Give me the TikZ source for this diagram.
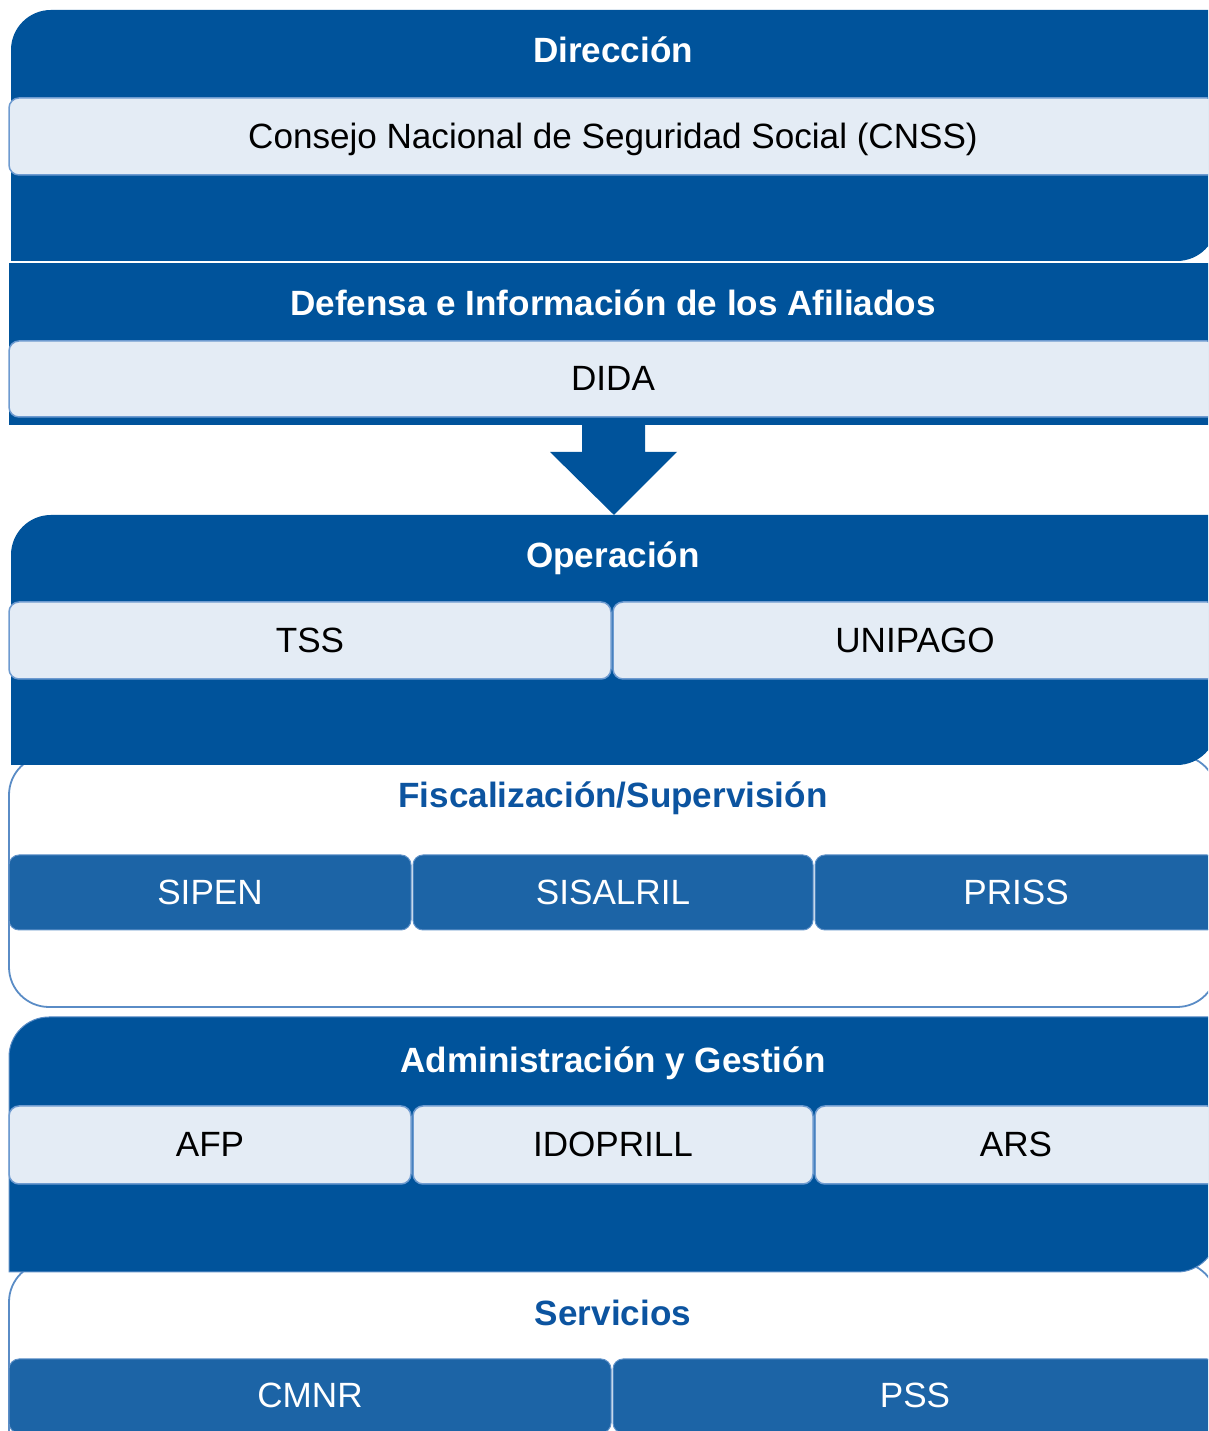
\documentclass[tikz,border=0pt]{standalone}
\usepackage{fontspec}
\setmainfont{Liberation Sans}
\definecolor{darkp}{RGB}{0,83,155}
\definecolor{lfill}{RGB}{228,236,245}
\definecolor{lborder}{RGB}{110,155,208}
\definecolor{mfill}{RGB}{28,100,166}
\definecolor{mborder}{RGB}{95,145,200}
\definecolor{tblue}{RGB}{12,84,160}
\definecolor{pborder}{RGB}{90,140,198}
\begin{document}
\begin{tikzpicture}[x=1pt,y=1pt,
  txt/.style={font=\fontsize{35.1}{40}\selectfont, text height=23.5pt, text depth=0pt, inner sep=0pt},
  ttl/.style={txt, font=\bfseries\fontsize{35.1}{40}\selectfont, text=white},
  ttlb/.style={ttl, text=tblue},
  lbox/.style={txt, draw=lborder, line width=1.5pt, fill=lfill, rounded corners=10pt, text=black},
  mbox/.style={txt, draw=mborder, line width=1pt, fill=mfill, rounded corners=10pt, text=white},
  darkpanel/.style={fill=darkp},
  whitepanel/.style={draw=pborder, line width=1.8pt, fill=white}]
\useasboundingbox (0,0) rectangle (1208,1431);
\clip (0,0) rectangle (1208,1431);
\fill[white] (0,0) rectangle (1208,1431);

% Panel 1: Direccion
\fill[darkpanel] (11,1170) -- (11,1381) arc[start angle=180,end angle=90,radius=40] -- (1217,1421) -- (1217,1210) arc[start angle=0,end angle=-90,radius=40] -- cycle;
\node[ttl] (t1) at (613,1380) {Dirección};
\node[lbox, minimum width=1208, minimum height=77] (cnss) at (613,1294.5) {Consejo Nacional de Seguridad Social (CNSS)};

% Panel 2: Defensa
\fill[darkpanel] (9,1006) rectangle (1217,1168);
\node[ttl] (t2) at (613,1127) {Defensa e Información de los Afiliados};
\node[lbox, minimum width=1208, minimum height=76] (dida) at (613,1052) {DIDA};

% Arrow
\fill[darkp] (582,1006) -- (582,979) -- (550,979) -- (614,916) -- (677,979) -- (645,979) -- (645,1006) -- cycle;

% Panel 4: Fiscalizacion (behind panel 3)
\draw[whitepanel, rounded corners=40] (9,424) rectangle (1217,676);
\node[ttlb] (t4) at (613,635) {Fiscalización/Supervisión};
\node[mbox, minimum width=402, minimum height=75] (sipen) at (210,538.5) {SIPEN};
\node[mbox, minimum width=400, minimum height=75] (sisalril) at (613,538.5) {SISALRIL};
\node[mbox, minimum width=402, minimum height=75] (priss) at (1016,538.5) {PRISS};

% Panel 3: Operacion
\fill[darkpanel] (11,666) -- (11,876) arc[start angle=180,end angle=90,radius=40] -- (1217,916) -- (1217,706) arc[start angle=0,end angle=-90,radius=40] -- cycle;
\node[ttl] (t3) at (613,875) {Operación};
\node[lbox, minimum width=602, minimum height=77] (tss) at (310,790.5) {TSS};
\node[lbox, minimum width=604, minimum height=77] (unipago) at (915,790.5) {UNIPAGO};

% Panel 6: Servicios (behind panel 5)
\draw[whitepanel, rounded corners=40] (9,-80) rectangle (1217,169);
\node[ttlb] (t6) at (613,117) {Servicios};
\node[mbox, minimum width=602, minimum height=74] (cmnr) at (310,35) {CMNR};
\node[mbox, minimum width=604, minimum height=74] (pss) at (915,35) {PSS};

% Panel 5: Administracion
\filldraw[darkpanel, draw=pborder, line width=1pt] (9,159) -- (9,374) arc[start angle=180,end angle=90,radius=40] -- (1217,414) -- (1217,199) arc[start angle=0,end angle=-90,radius=40] -- cycle;
\node[ttl] (t5) at (613,370) {Administración y Gestión};
\node[lbox, minimum width=402, minimum height=78] (afp) at (210,286) {AFP};
\node[lbox, minimum width=400, minimum height=78] (idoprill) at (613,286) {IDOPRILL};
\node[lbox, minimum width=402, minimum height=78] (ars) at (1016,286) {ARS};
\end{tikzpicture}
\end{document}
